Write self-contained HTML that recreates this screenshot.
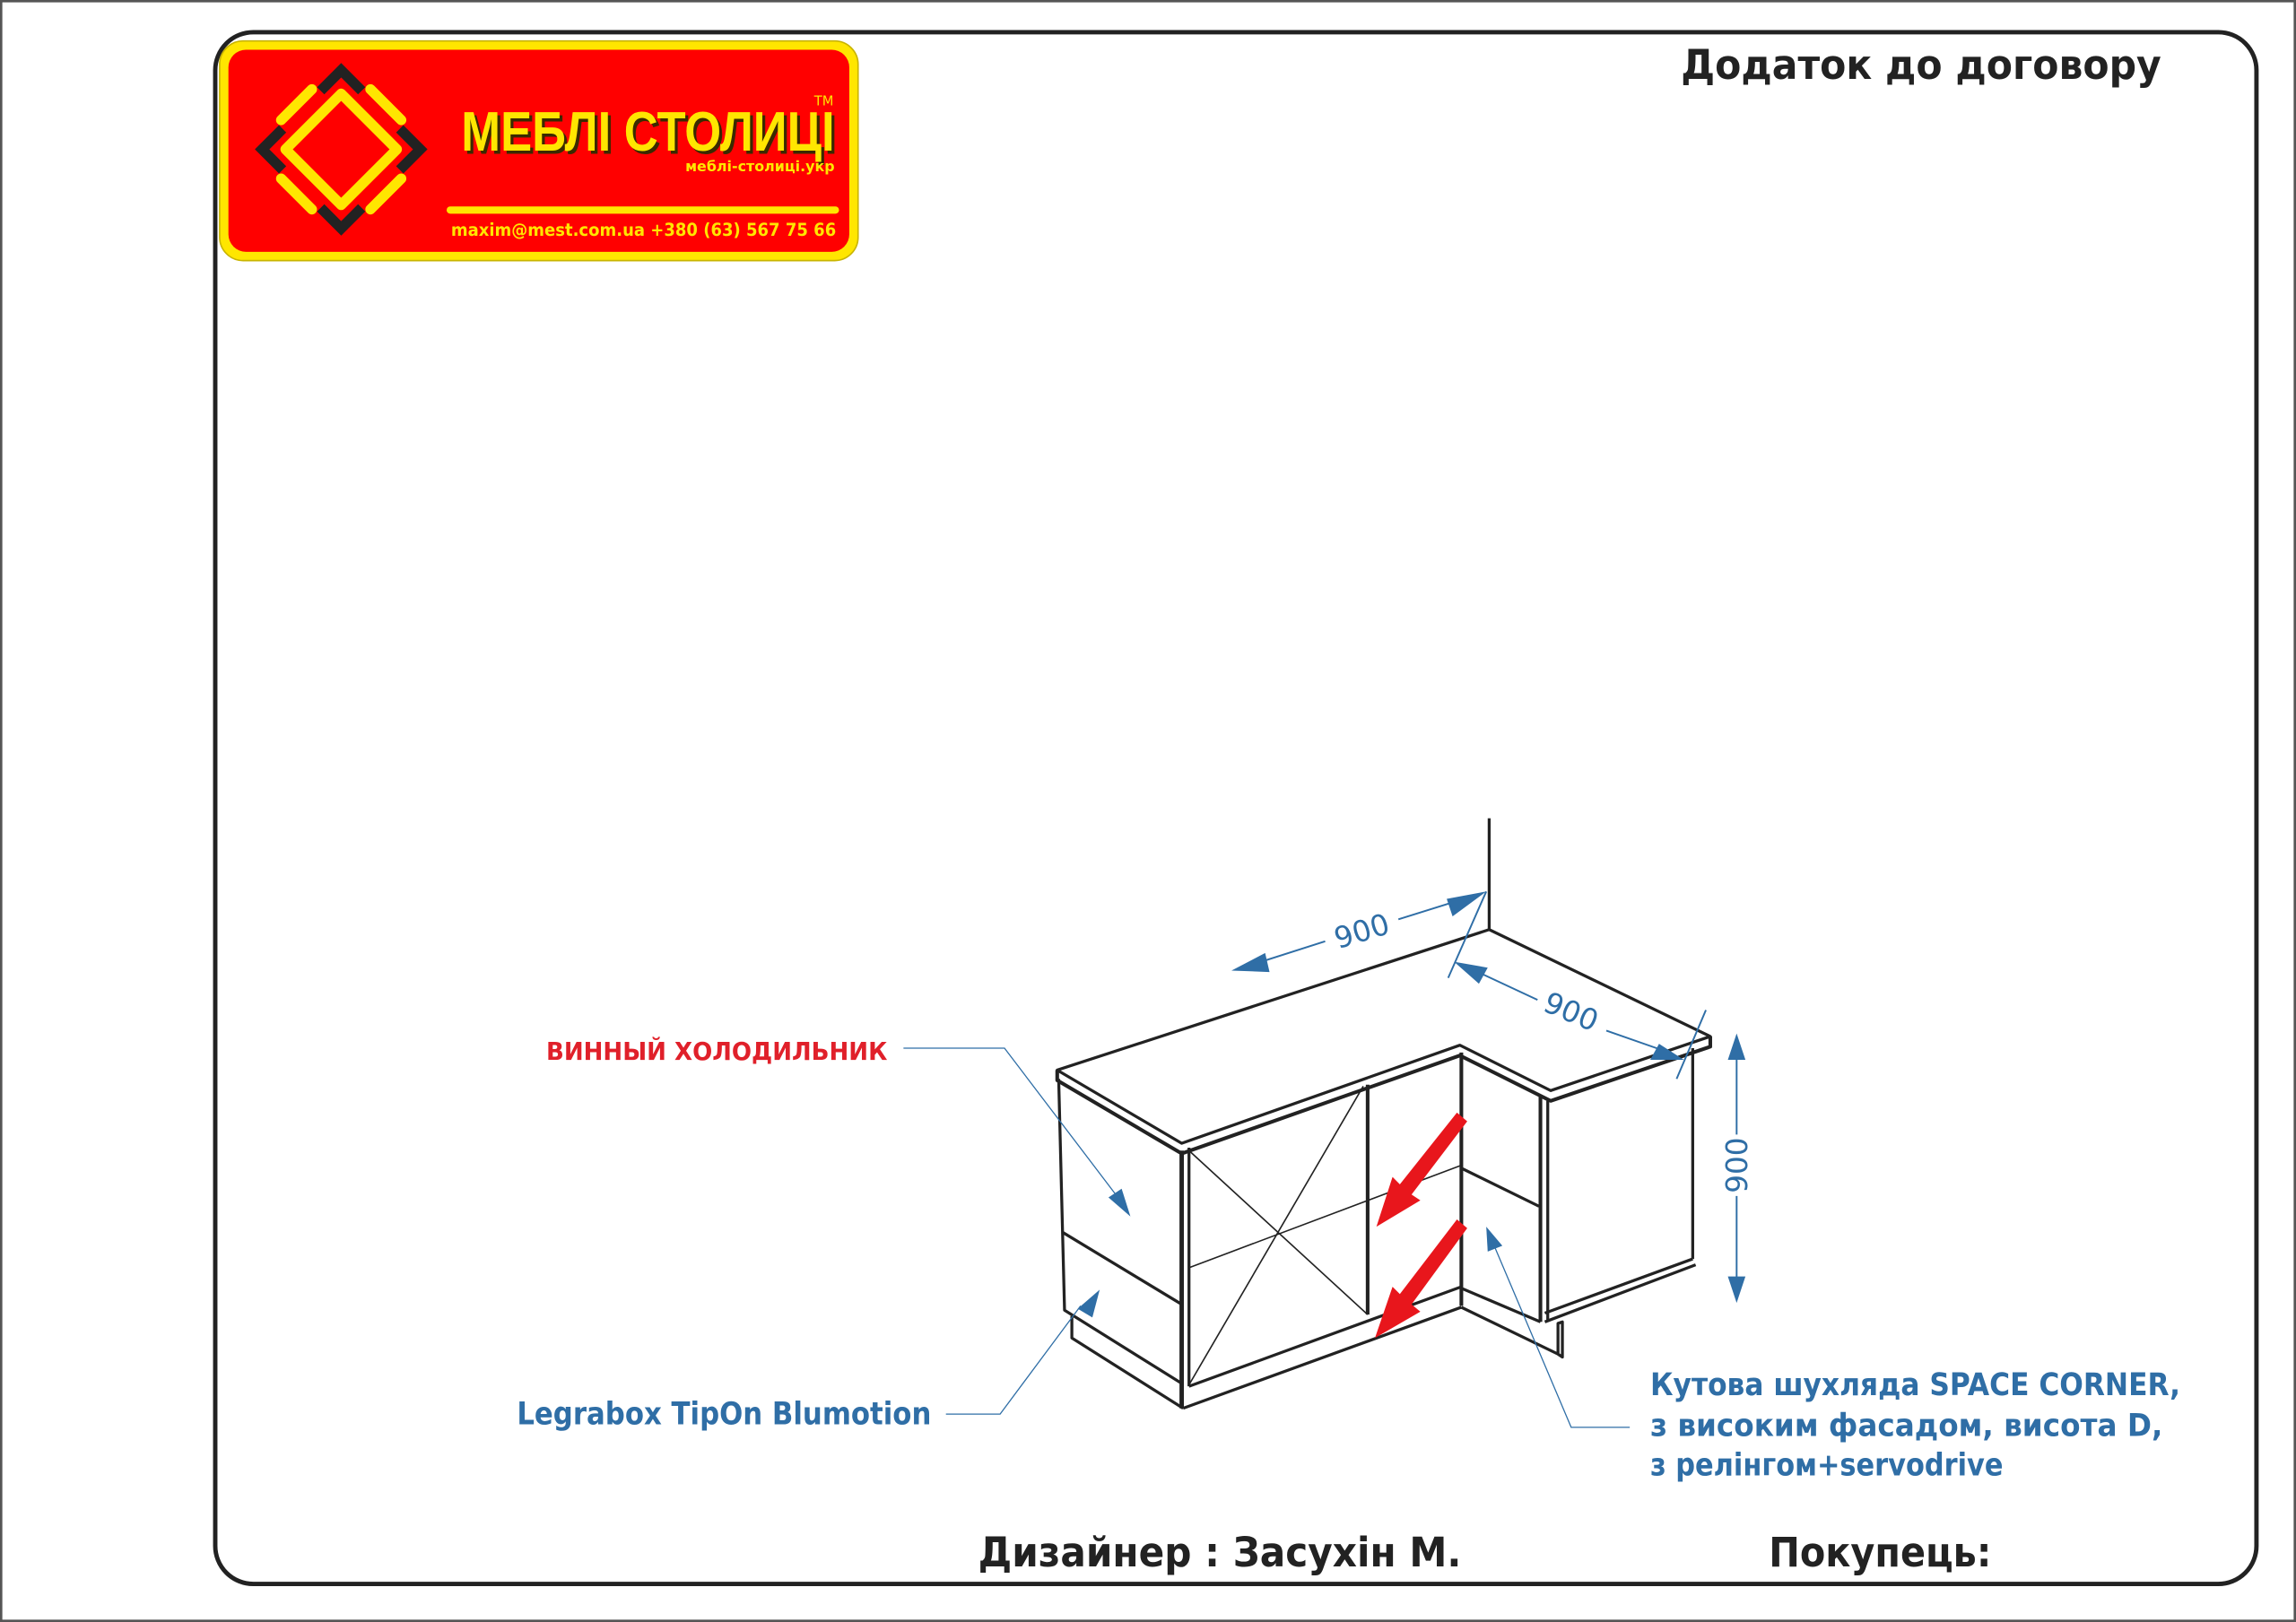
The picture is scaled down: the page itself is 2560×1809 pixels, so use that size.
<!DOCTYPE html>
<html><head><meta charset="utf-8"><style>
html,body{margin:0;padding:0;background:#fff;}
svg{display:block;}
</style></head><body>
<svg width="2560" height="1809" viewBox="0 0 1568 1108" xmlns="http://www.w3.org/2000/svg" font-family="'DejaVu Sans','Liberation Sans',sans-serif" font-weight="bold">
<rect x="0" y="0" width="1568" height="1108" fill="#fff"/>
<rect x="0.8" y="0.8" width="1566.4" height="1106.4" fill="none" stroke="#555" stroke-width="1.6"/>
<rect x="147" y="22" width="1394" height="1060" rx="26" fill="none" stroke="#222" stroke-width="3"/>

<rect x="150" y="28" width="436" height="150" rx="16" fill="#ffe600" stroke="#c9b400" stroke-width="1"/>
<rect x="156" y="34" width="424" height="138" rx="12" fill="#ff0000"/>
<g transform="translate(233,102)">
  <path d="M0,-38 L38,0 L0,38 L-38,0 Z" fill="none" stroke="#ffe600" stroke-width="7" stroke-linejoin="round"/>
  <path d="M-14,-40 L0,-54 L14,-40" fill="none" stroke="#222" stroke-width="7" stroke-linejoin="miter"/>
  <path d="M-14,40 L0,54 L14,40" fill="none" stroke="#222" stroke-width="7"/>
  <path d="M-40,-14 L-54,0 L-40,14" fill="none" stroke="#222" stroke-width="7"/>
  <path d="M40,-14 L54,0 L40,14" fill="none" stroke="#222" stroke-width="7"/>
  <g stroke="#ffe600" stroke-width="7" stroke-linecap="round">
    <line x1="-20" y1="-41" x2="-41" y2="-20"/>
    <line x1="20" y1="-41" x2="41" y2="-20"/>
    <line x1="-20" y1="41" x2="-41" y2="20"/>
    <line x1="20" y1="41" x2="41" y2="20"/>
  </g>
</g>
<text x="317" y="105" font-size="38" fill="#3a2a00" textLength="255" lengthAdjust="spacingAndGlyphs" font-family="'Liberation Sans',sans-serif">МЕБЛІ СТОЛИЦІ</text>
<text x="315" y="103" font-size="38" fill="#ffe600" textLength="255" lengthAdjust="spacingAndGlyphs" font-family="'Liberation Sans',sans-serif">МЕБЛІ СТОЛИЦІ</text>
<text x="556" y="72" font-size="9" font-weight="normal" fill="#ffe600">TM</text>
<text x="570" y="117" font-size="10" fill="#ffe600" text-anchor="end" textLength="102" lengthAdjust="spacingAndGlyphs">меблі-столиці.укр</text>
<rect x="305" y="141" width="268" height="5" rx="2.5" fill="#ffe600"/>
<text x="308" y="161" font-size="12" fill="#ffe600" textLength="263" lengthAdjust="spacingAndGlyphs">maxim@mest.com.ua  +380 (63) 567 75 66</text>

<text x="1148" y="54" font-size="28" fill="#222" textLength="328" lengthAdjust="spacingAndGlyphs">Додаток до договору</text>
<text x="668" y="1070" font-size="28" fill="#222" textLength="330" lengthAdjust="spacingAndGlyphs">Дизайнер : Засухін М.</text>
<text x="1208" y="1070" font-size="28" fill="#222" textLength="152" lengthAdjust="spacingAndGlyphs">Покупець:</text>

<text x="373" y="724" font-size="17" fill="#e0202a" textLength="233" lengthAdjust="spacingAndGlyphs">ВИННЫЙ ХОЛОДИЛЬНИК</text>
<text x="353" y="973" font-size="21" fill="#2f6ea6" textLength="283" lengthAdjust="spacingAndGlyphs">Legrabox TipOn Blumotion</text>
<text x="1127" y="953" font-size="21" fill="#2f6ea6" textLength="362" lengthAdjust="spacingAndGlyphs">Кутова шухляда SPACE CORNER,</text>
<text x="1127" y="981" font-size="21" fill="#2f6ea6" textLength="350" lengthAdjust="spacingAndGlyphs">з високим фасадом, висота D,</text>
<text x="1127" y="1008" font-size="21" fill="#2f6ea6" textLength="241" lengthAdjust="spacingAndGlyphs">з релінгом+servodrive</text>

<g fill="none" stroke="#222" stroke-width="2" stroke-linejoin="round">
  <line x1="1017" y1="559" x2="1017" y2="635"/>
  <path d="M722,731 L1017,635 L1168,708 L1059,745 L997,714 L807,781 Z" fill="#fff"/>
  <path d="M722,731 L722,738 L807,788 L997,721 L1059,752 L1168,715 L1168,708" stroke-width="2.5"/>
  <path d="M723,737 L727,895 L807,945"/>
  <line x1="726" y1="842" x2="807" y2="891"/>
  <path d="M732,899 L732,914 L808,962"/>
  <line x1="807" y1="786" x2="807" y2="962" stroke-width="3"/>
  <line x1="812" y1="784" x2="812" y2="947"/>
  <line x1="934" y1="741" x2="934" y2="898" stroke-width="2.5"/>
  <line x1="998" y1="719" x2="998" y2="892" stroke-width="2.5"/>
  <path d="M812,947 L998,879"/>
  <path d="M808,962 L998,893"/>
  <g stroke-width="1">
    <line x1="812" y1="786" x2="934" y2="898"/>
    <line x1="931" y1="742" x2="812" y2="946"/>
    <line x1="812" y1="866" x2="998" y2="796"/>
  </g>
  <line x1="998" y1="798" x2="1051" y2="824"/>
  <line x1="1052" y1="749" x2="1052" y2="903" stroke-width="2.5"/>
  <line x1="998" y1="880" x2="1052" y2="903"/>
  <path d="M998,893 L1064,925 L1064,904 L1067,903 L1067,927 L1064,925"/>
  <line x1="1057" y1="752" x2="1057" y2="903"/>
  <line x1="1156" y1="716" x2="1156" y2="860"/>
  <path d="M1055,897 L1156,860"/>
  <path d="M1055,903 L1158,864"/>
</g>

<g fill="#e8161c">
  <path d="M1002,766 L995,760 L956,809 L951,804 L940,838 L970,820 L964,816 Z"/>
  <path d="M1002,839 L995,833 L956,884 L951,879 L939,914 L970,896 L964,891 Z"/>
</g>

<g stroke="#2f6ea6" stroke-width="1.2" fill="none">
  <line x1="1015" y1="609" x2="989" y2="668"/>
  <line x1="1165" y1="690" x2="1145" y2="737"/>
  <line x1="1003" y1="613" x2="955" y2="628"/>
  <line x1="905" y1="643" x2="855" y2="659"/>
  <line x1="1005" y1="662" x2="1050" y2="683"/>
  <line x1="1097" y1="704" x2="1137" y2="718"/>
  <line x1="1186" y1="720" x2="1186" y2="775"/>
  <line x1="1186" y1="817" x2="1186" y2="876"/>
  <path d="M617,716 L686,716 L765,820" stroke-width="0.8"/>
  <path d="M646,966 L683,966 L738,892" stroke-width="0.8"/>
  <path d="M1113,975 L1073,975 L1020,850" stroke-width="0.8"/>
</g>
<g fill="#2f6ea6">
  <path d="M1015,609 L992,626 L988,614 Z"/>
  <path d="M841,663 L864,651 L867,664 Z"/>
  <path d="M993,657 L1016,661 L1010,672 Z"/>
  <path d="M1150,724 L1127,724 L1133,713 Z"/>
  <path d="M1186,706 L1180,724 L1192,724 Z"/>
  <path d="M1186,890 L1180,872 L1192,872 Z"/>
  <path d="M772,831 L757,818 L766,812 Z"/>
  <path d="M751,881 L746,900 L736,894 Z"/>
  <path d="M1015,838 L1026,851 L1016,855 Z"/>
</g>
<g fill="#2f6ea6" font-weight="normal" font-size="20" font-family="'DejaVu Sans',sans-serif">
  <text x="930" y="643" text-anchor="middle" transform="rotate(-17 930 636)">900</text>
  <text x="1073" y="698" text-anchor="middle" transform="rotate(23 1073 691)">900</text>
  <text x="1186" y="803" text-anchor="middle" transform="rotate(-90 1186 796)">900</text>
</g>
</svg>
</body></html>
